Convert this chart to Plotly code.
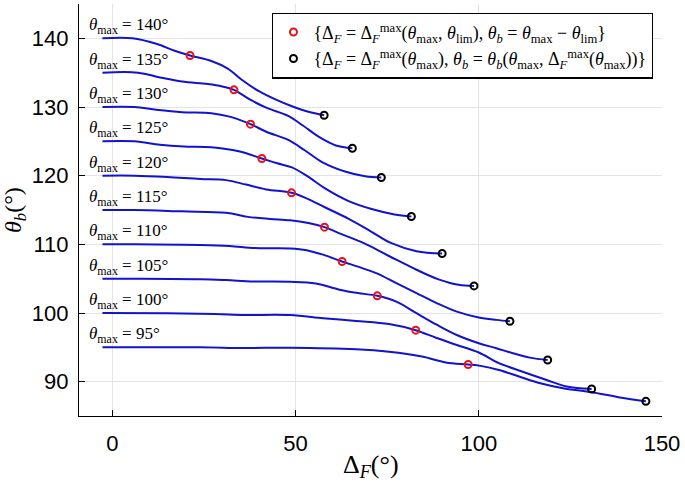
import plotly.graph_objects as go

# ---- data ----
theta_max = [95, 100, 105, 110, 115, 120, 125, 130, 135, 140]

df_140 = [-2.7, 5.5, 12.0, 17.0, 21.2, 27.0, 31.5, 35.5, 40.0, 44.5, 49.0, 53.5, 57.8]
tb_140 = [140.0, 140.0, 139.2, 138.2, 137.5, 136.7, 135.6, 133.9, 132.3, 131.1, 130.1, 129.3, 128.8]

df_135 = [-2.7, 7.0, 13.0, 19.0, 26.0, 30.0, 33.2, 37.5, 42.0, 48.0, 52.0, 56.5, 61.0, 65.5]
tb_135 = [135.0, 135.0, 134.3, 133.7, 133.35, 133.0, 132.5, 131.1, 129.9, 128.7, 127.3, 125.6, 124.4, 124.0]

df_130 = [-2.7, 6.0, 12.0, 19.0, 27.0, 32.0, 37.7, 42.0, 48.0, 52.5, 57.5, 63.5, 69.0, 73.4]
tb_130 = [130.0, 130.0, 129.6, 129.25, 129.1, 128.6, 127.5, 126.4, 125.2, 123.7, 121.9, 120.6, 119.9, 119.74]

df_125 = [-2.7, 6.0, 13.0, 19.5, 27.0, 34.5, 40.8, 45.0, 49.0, 53.0, 58.5, 64.5, 71.0, 77.0, 81.6]
tb_125 = [125.0, 125.0, 124.5, 124.25, 124.15, 123.55, 122.5, 121.8, 121.2, 120.0, 118.0, 116.3, 115.1, 114.35, 114.05]

df_120 = [-2.7, 6.0, 15.0, 24.0, 31.0, 36.5, 42.0, 48.9, 53.0, 58.0, 64.5, 70.5, 76.0, 83.0, 90.0]
tb_120 = [120.0, 120.0, 119.8, 119.5, 119.35, 118.7, 118.0, 117.5, 116.7, 115.4, 113.7, 111.9, 110.2, 109.0, 108.66]

df_115 = [-2.7, 6.0, 19.0, 31.0, 37.0, 43.0, 48.5, 53.5, 57.9, 62.0, 68.5, 75.5, 83.0, 89.0, 94.5, 98.7]
tb_115 = [115.0, 115.0, 114.8, 114.6, 114.0, 113.7, 113.5, 113.1, 112.5, 111.6, 110.2, 108.3, 106.3, 104.9, 104.1, 103.95]

df_110 = [-2.7, 6.0, 24.0, 32.0, 39.0, 48.5, 53.0, 57.5, 62.7, 67.0, 72.0, 77.5, 83.0, 88.5, 94.0, 100.0, 104.8, 108.5]
tb_110 = [110.0, 110.0, 109.9, 109.75, 109.45, 109.4, 109.15, 108.5, 107.5, 106.75, 105.8, 104.35, 102.9, 101.45, 100.2, 99.35, 99.0, 98.8]

df_105 = [-2.7, 6.0, 24.0, 31.0, 38.5, 48.5, 55.5, 62.0, 67.0, 72.3, 77.5, 83.0, 88.5, 94.0, 100.0, 104.8, 109.3, 113.9, 118.8]
tb_105 = [105.0, 105.0, 104.93, 104.8, 104.6, 104.55, 104.3, 103.4, 102.9, 102.5, 101.66, 99.97, 98.3, 96.8, 95.6, 94.87, 94.14, 93.5, 93.16]

df_100 = [-2.7, 15.0, 28.0, 36.0, 48.5, 57.5, 66.5, 75.5, 82.8, 88.5, 94.0, 100.0, 105.5, 112.0, 118.5, 124.0, 130.8]
tb_100 = [100.0, 99.97, 99.87, 99.72, 99.7, 99.25, 98.85, 98.4, 97.5, 96.35, 95.35, 94.25, 92.7, 91.45, 90.25, 89.3, 88.94]

df_95 = [-2.7, 24.0, 36.0, 48.5, 66.5, 75.5, 84.5, 91.0, 97.1, 100.5, 105.5, 111.0, 116.5, 123.0, 130.5, 138.5, 145.6]
tb_95 = [95.0, 95.0, 94.9, 94.95, 94.72, 94.35, 93.65, 92.8, 92.5, 92.3, 91.7, 90.75, 89.8, 89.05, 88.5, 87.7, 87.14]

# red markers: theta_b = theta_max - theta_lim
red_x = [97.1, 82.8, 72.3, 62.7, 57.9, 48.9, 40.8, 37.7, 33.2, 21.2]
red_y = [92.5, 97.5, 102.5, 107.5, 112.5, 117.5, 122.5, 127.5, 132.5, 137.5]

# black markers: end of each curve
blk_x = [145.6, 130.8, 118.8, 108.5, 98.7, 90.0, 81.6, 73.4, 65.5, 57.8]
blk_y = [87.14, 88.94, 93.16, 98.8, 103.95, 108.66, 114.05, 119.74, 124.0, 128.8]

x_ticks = [0, 50, 100, 150]
y_ticks = [90, 100, 110, 120, 130, 140]

curves = {
    95: (df_95, tb_95), 100: (df_100, tb_100), 105: (df_105, tb_105),
    110: (df_110, tb_110), 115: (df_115, tb_115), 120: (df_120, tb_120),
    125: (df_125, tb_125), 130: (df_130, tb_130), 135: (df_135, tb_135),
    140: (df_140, tb_140),
}

BLUE = "#1212cf"
SERIF = "Liberation Serif, DejaVu Serif, serif"
SANS = "Liberation Sans, Arial, sans-serif"

fig = go.Figure()
for tm in theta_max:
    xs, ys = curves[tm]
    fig.add_trace(go.Scatter(
        x=xs, y=ys, mode="lines", showlegend=False,
        line=dict(color=BLUE, width=2, shape="spline", smoothing=1.0),
        hoverinfo="skip"))

fig.add_trace(go.Scatter(
    x=red_x, y=red_y, mode="markers",
    name="{Δ<sub><i>F</i></sub> = Δ<sub><i>F</i></sub><sup>max</sup>(<i>θ</i><sub>max</sub>, <i>θ</i><sub>lim</sub>), <i>θ</i><sub><i>b</i></sub> = <i>θ</i><sub>max</sub> − <i>θ</i><sub>lim</sub>}",
    marker=dict(symbol="circle-open", size=7, color="#e5141b", line=dict(width=2, color="#e5141b"))))
fig.add_trace(go.Scatter(
    x=blk_x, y=blk_y, mode="markers",
    name="{Δ<sub><i>F</i></sub> = Δ<sub><i>F</i></sub><sup>max</sup>(<i>θ</i><sub>max</sub>), <i>θ</i><sub><i>b</i></sub> = <i>θ</i><sub><i>b</i></sub>(<i>θ</i><sub>max</sub>, Δ<sub><i>F</i></sub><sup>max</sup>(<i>θ</i><sub>max</sub>))}",
    marker=dict(symbol="circle-open", size=7, color="black", line=dict(width=2, color="black"))))

annotations = []
for tm in theta_max:
    annotations.append(dict(
        x=-7.0, y=tm, xref="x", yref="y", xanchor="left", yanchor="middle",
        yshift=12, showarrow=False,
        text=f"<i>θ</i><sub>max</sub> = {tm}°",
        font=dict(family=SERIF, size=17, color="black")))

annotations.append(dict(
    x=0.5, y=0, xref="paper", yref="paper", xanchor="center", yanchor="middle",
    yshift=-50, showarrow=False,
    text="Δ<sub><i>F</i></sub>(°)", font=dict(family=SERIF, size=26, color="black")))
annotations.append(dict(
    x=0, y=0.5, xref="paper", yref="paper", xanchor="center", yanchor="middle",
    xshift=-64, showarrow=False, textangle=-90,
    text="<i>θ</i><sub><i>b</i></sub>(°)", font=dict(family=SERIF, size=24, color="black")))

fig.update_layout(
    width=685, height=483,
    margin=dict(l=79, r=23, t=4, b=67),
    paper_bgcolor="white", plot_bgcolor="white",
    annotations=annotations,
    legend=dict(
        x=0.985, y=0.979, xanchor="right", yanchor="top",
        bgcolor="white", bordercolor="black", borderwidth=1.2,
        font=dict(family=SERIF, size=18, color="black"),
        tracegroupgap=0, itemwidth=30),
    xaxis=dict(
        range=[-9.1, 150], tickvals=x_ticks, ticktext=[str(v) for v in x_ticks],
        showgrid=True, gridcolor="#e3e3e3", gridwidth=1, zeroline=False,
        showline=True, linecolor="black", linewidth=1.2,
        ticks="inside", ticklen=6, tickcolor="black", tickwidth=1.2,
        ticklabelstandoff=7,
        tickfont=dict(family=SANS, size=22, color="black")),
    yaxis=dict(
        range=[85, 145], tickvals=y_ticks, ticktext=[str(v) for v in y_ticks],
        showgrid=True, gridcolor="#e3e3e3", gridwidth=1, zeroline=False,
        showline=True, linecolor="black", linewidth=1.2,
        ticks="inside", ticklen=6, tickcolor="black", tickwidth=1.2,
        ticklabelstandoff=5,
        tickfont=dict(family=SANS, size=22, color="black")),
)

fig.write_html("out.html", config={"displayModeBar": False},
               post_script="document.body.style.margin='0px';")
